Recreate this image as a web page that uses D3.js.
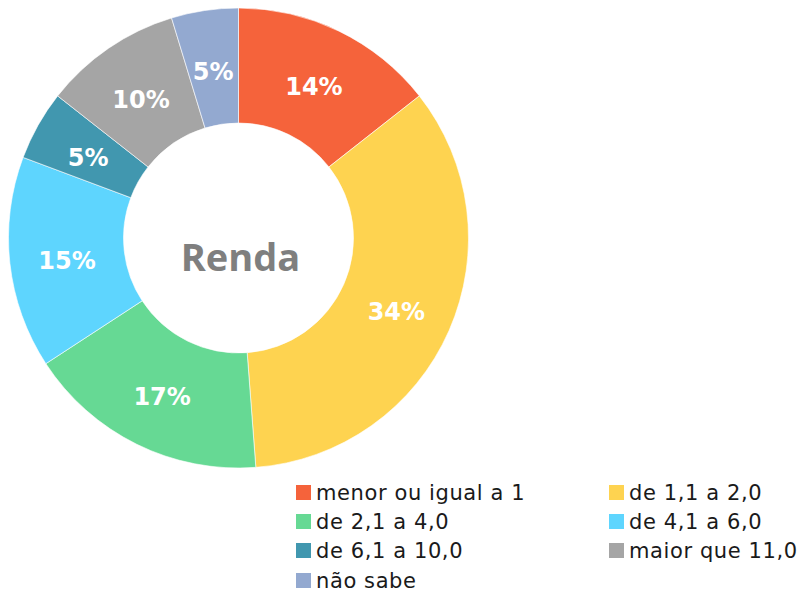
<!DOCTYPE html>
<html><head><meta charset="utf-8">
<script src="https://cdn.jsdelivr.net/npm/d3@7"></script>
<style>body{margin:0;background:#fff}svg{display:block}</style>
</head><body>
<svg id="chart" width="808" height="594"></svg>
<script>
const categories = ["menor ou igual a 1","de 1,1 a 2,0","de 2,1 a 4,0","de 4,1 a 6,0","de 6,1 a 10,0","maior que 11,0","não sabe"];
const values = [14.4, 34.4, 17.0, 14.9, 4.9, 9.7, 4.7];
const labels = ["14%","34%","17%","15%","5%","10%","5%"];
const colors = ["#F5633B","#FED350","#66D994","#5ED5FE","#4197AF","#A5A5A5","#93A9D0"];
const title = "Renda";

const svg = d3.select("#chart");
const cx = 238.5, cy = 238, R = 230, r = 115;
const data = categories.map((c,i)=>({c, v: values[i], l: labels[i], col: colors[i]}));
const pie = d3.pie().value(d=>d.v).sort(null);
const arc = d3.arc().innerRadius(r).outerRadius(R);
const labelArc = d3.arc().innerRadius((r+R)/2).outerRadius((r+R)/2);
const g = svg.append("g").attr("transform",`translate(${cx},${cy})`);
const arcs = pie(data);
g.selectAll("path").data(arcs).join("path")
  .attr("d",arc).attr("fill",d=>d.data.col)
  .attr("stroke","#fff").attr("stroke-width",0.6);
g.selectAll("text.lbl").data(arcs).join("text").attr("class","lbl")
  .attr("transform",d=>{const p=labelArc.centroid(d);return `translate(${p[0]},${p[1]+4})`;})
  .attr("text-anchor","middle").attr("dy","0.35em")
  .attr("fill","#fff").attr("font-family","'DejaVu Sans', sans-serif")
  .attr("font-weight","bold").attr("font-size",24)
  .text(d=>d.data.l);
g.append("text").attr("text-anchor","middle").attr("x",2).attr("y",20).attr("dy","0.35em")
  .attr("fill","#7F7F7F").attr("font-family","'Open Sans', sans-serif")
  .attr("font-weight","bold").attr("font-size",38).text(title);

const lg = svg.append("g");
const colX = [296, 609], rowY = [485, 514, 543, 573];
data.forEach((d,i)=>{
  const x = colX[i%2], y = rowY[Math.floor(i/2)];
  lg.append("rect").attr("x",x).attr("y",y).attr("width",15).attr("height",15).attr("fill",d.col);
  lg.append("text").attr("x",x+20).attr("y",y+7.5).attr("dy","0.35em")
    .attr("font-family","'DejaVu Sans', sans-serif").attr("font-size",21)
    .attr("letter-spacing",0.6)
    .attr("fill","#1a1a1a").text(d.c);
});
</script>
</body></html>
